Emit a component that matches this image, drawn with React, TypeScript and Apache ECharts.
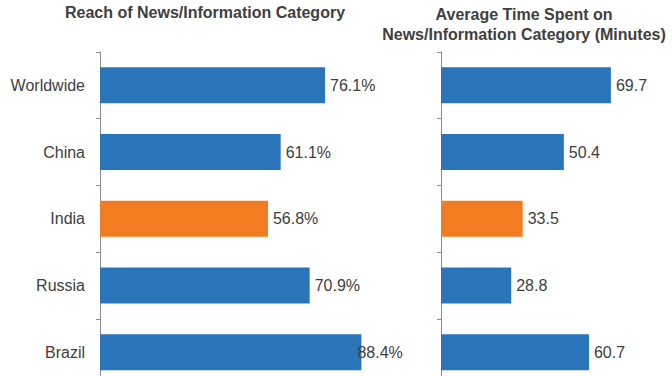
import React, { useEffect, useRef } from "react";
import * as echarts from "echarts";

const categories = ["Worldwide", "China", "India", "Russia", "Brazil"];
const reachValues = [76.1, 61.1, 56.8, 70.9, 88.4];
const timeValues = [69.7, 50.4, 33.5, 28.8, 60.7];
const highlightCategory = "India";
const leftTitle = "Reach of News/Information Category";
const rightTitle = "Average Time Spent on\nNews/Information Category (Minutes)";

const BLUE = "#2a75ba";
const ORANGE = "#f27c22";
const TEXT = "#404040";
const FONT = "'Liberation Sans', Arial, sans-serif";

export default function App() {
  const ref = useRef<HTMLDivElement>(null);
  useEffect(() => {
    if (!ref.current) return;
    const chart = echarts.init(ref.current, null, { renderer: "svg" });
    const colorFor = (c: string) => (c === highlightCategory ? ORANGE : BLUE);
    const reachData = reachValues.map((v, i) => {
      const item: any = { value: v, itemStyle: { color: colorFor(categories[i]) } };
      if (i === reachValues.length - 1) item.label = { offset: [-9, 0] };
      return item;
    });
    const timeData = timeValues.map((v, i) => ({ value: v, itemStyle: { color: colorFor(categories[i]) } }));
    const yAxisBase = {
      type: "category" as const,
      data: categories,
      inverse: true,
      axisLine: { show: true, lineStyle: { color: "#8c8c8c", width: 1 } },
      axisTick: { show: true, length: 4, lineStyle: { color: "#8c8c8c" } },
      splitLine: { show: false },
    };
    const labelBase = {
      show: true,
      position: "right" as const,
      distance: 5,
      color: TEXT,
      fontSize: 16,
      fontFamily: FONT,
    };
    chart.setOption({
      animation: false,
      textStyle: { fontFamily: FONT },
      graphic: [
        {
          type: "text",
          x: 205,
          y: 4,
          style: { text: leftTitle, textAlign: "center", fontSize: 16, fontWeight: "bold", fontFamily: FONT, fill: TEXT },
        },
        {
          type: "text",
          x: 524,
          y: 4,
          style: { text: rightTitle, textAlign: "center", fontSize: 16, fontWeight: "bold", fontFamily: FONT, fill: TEXT, lineHeight: 20 },
        },
      ],
      grid: [
        { left: 100, top: 52, width: 295.7, height: 333.5, containLabel: false },
        { left: 441, top: 52, width: 195, height: 333.5, containLabel: false },
      ],
      xAxis: [
        { type: "value", gridIndex: 0, min: 0, max: 100, show: false },
        { type: "value", gridIndex: 1, min: 0, max: 80, show: false },
      ],
      yAxis: [
        {
          ...yAxisBase,
          gridIndex: 0,
          axisLabel: { show: true, margin: 15, color: TEXT, fontSize: 16, fontFamily: FONT },
        },
        { ...yAxisBase, gridIndex: 1, axisLabel: { show: false } },
      ],
      series: [
        {
          type: "bar",
          xAxisIndex: 0,
          yAxisIndex: 0,
          data: reachData,
          barWidth: 36,
          label: { ...labelBase, formatter: (p: any) => p.value.toFixed(1) + "%" },
        },
        {
          type: "bar",
          xAxisIndex: 1,
          yAxisIndex: 1,
          data: timeData,
          barWidth: 36,
          label: { ...labelBase, formatter: (p: any) => p.value.toFixed(1) },
        },
      ],
    });
    return () => chart.dispose();
  }, []);
  return (
    <div style={{ width: 672, height: 376, position: "absolute", left: 0, top: 0, overflow: "hidden" }}>
      <div ref={ref} style={{ width: 672, height: 388 }} />
    </div>
  );
}
